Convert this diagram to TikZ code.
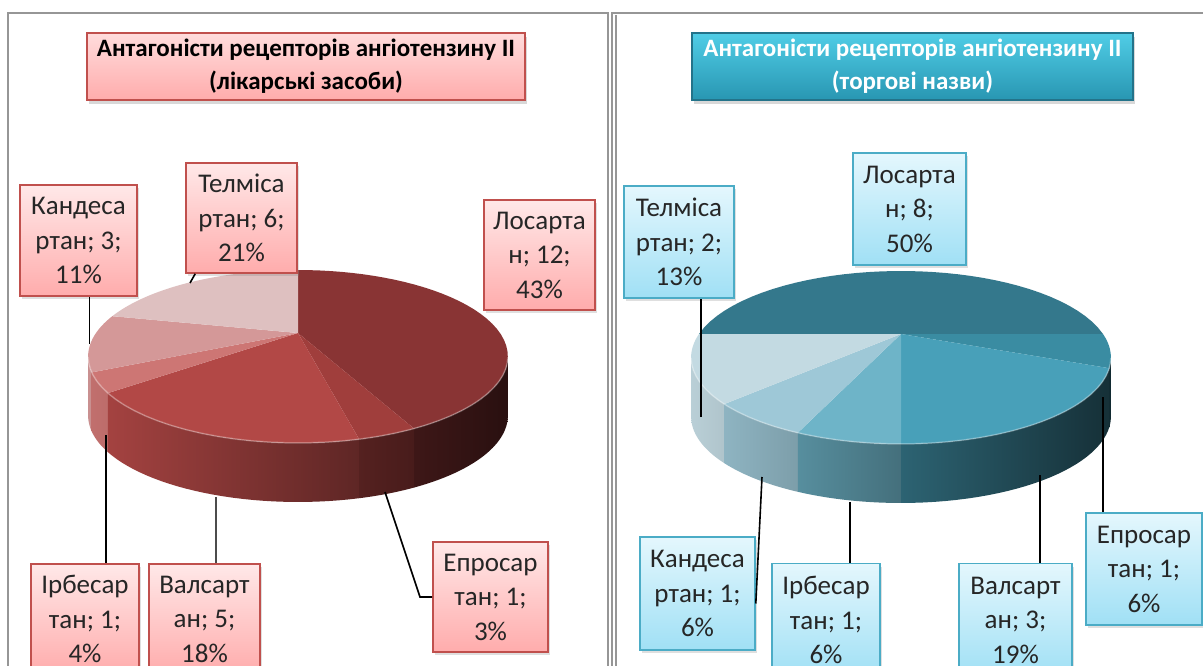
\documentclass[tikz,border=0pt]{standalone}
\usepackage{fontspec}
\setmainfont{Carlito}
\usetikzlibrary{shadows}
\definecolor{LA}{RGB}{137,52,52}
\definecolor{LB}{RGB}{160,62,60}
\definecolor{LC}{RGB}{178,72,70}
\definecolor{LD}{RGB}{205,118,116}
\definecolor{LE}{RGB}{212,152,152}
\definecolor{LF}{RGB}{222,192,192}
\definecolor{RA}{RGB}{52,120,140}
\definecolor{RB}{RGB}{58,140,162}
\definecolor{RC}{RGB}{72,160,185}
\definecolor{RD}{RGB}{110,180,200}
\definecolor{RE}{RGB}{158,200,215}
\definecolor{RF}{RGB}{195,218,226}
\definecolor{redborder}{RGB}{192,80,77}
\definecolor{redtop}{RGB}{255,232,232}
\definecolor{redbot}{RGB}{255,172,172}
\definecolor{tealborder}{RGB}{75,172,198}
\definecolor{tealtop}{RGB}{228,247,253}
\definecolor{tealbot}{RGB}{160,224,245}
\definecolor{ttop}{RGB}{80,205,230}
\definecolor{tbot}{RGB}{40,150,178}
\definecolor{tborder}{RGB}{35,115,138}
\definecolor{frame}{RGB}{150,150,150}
\newcommand\pieslice[3]{\fill[#3] (0,0) -- plot[domain=#1:#2, samples=40, variable=\t] ({px(\t)},{py(\t)}) -- cycle;}
\newcommand\pieside[4]{\path[left color=#3, right color=#4] plot[domain=#1:#2, samples=30, variable=\t] ({px(\t)},{py(\t)}) -- plot[domain=#2:#1, samples=30, variable=\t] ({px(\t)},{py(\t)+59}) -- cycle;}
\tikzset{
  lbox/.style={draw=redborder, line width=1.6pt, top color=redtop, bottom color=redbot, inner sep=0pt, align=center, text=black!85, font=\fontsize{27}{34.5}\selectfont, drop shadow={shadow xshift=2pt, shadow yshift=-3pt, opacity=0.25}},
  tbox/.style={draw=tealborder, line width=1.6pt, top color=tealtop, bottom color=tealbot, inner sep=0pt, align=center, text=black!85, font=\fontsize{27}{34.5}\selectfont, drop shadow={shadow xshift=2pt, shadow yshift=-3pt, opacity=0.25}},
  leader/.style={line width=1.6pt, black},
  titlefont/.style={font=\bfseries\fontsize{25}{33}\selectfont, align=center, inner sep=0pt}
}
\begin{document}
\begin{tikzpicture}[x=1pt,y=-1pt,
  declare function={px(\t)=202*cos(\t)/(1+0.2717*sin(\t)); py(\t)=-80.1*sin(\t)/(1+0.2717*sin(\t));}]
\useasboundingbox[fill=white] (0,0) rectangle (1203,666);
% frames
\draw[frame, line width=2pt] (8,680) -- (8,13) -- (608,13) -- (608,680);
\draw[frame, line width=1.5pt] (612,680) -- (612,13) -- (1210,13);
\draw[frame, line width=1.5pt] (616,680) -- (616,15);
% titles
\node[titlefont, draw=redborder, line width=1.5pt, top color=redtop!80!redbot, bottom color=redbot, minimum width=438, minimum height=67, drop shadow={shadow xshift=2pt, shadow yshift=-4pt, opacity=0.3}] (t1) at (306,66.5) {Антагоністи рецепторів ангіотензину II\\(лікарські засоби)};
\node[titlefont, text=white, draw=tborder, line width=1.5pt, top color=ttop, bottom color=tbot, minimum width=441, minimum height=67, drop shadow={shadow xshift=2pt, shadow yshift=-4pt, opacity=0.3}] (t2) at (912.5,66.5) {Антагоністи рецепторів ангіотензину II\\(торгові назви)};
% left pie
\begin{scope}[shift={(298,333)}]
  \pieside{-164.23}{-154.29}{LE!95!black}{LE!94!black}
  \pieside{-154.29}{-141.43}{LD!94!black}{LD!92!black}
  \pieside{-141.43}{-77.14}{LC!92!black}{LC!53!black}
  \pieside{-77.14}{-64.29}{LB!53!black}{LB!45!black}
  \pieside{-64.29}{-15.77}{LA!45!black}{LA!30!black}
  \pieslice{90}{-64.29}{LA}
  \pieslice{-64.29}{-77.14}{LB}
  \pieslice{-77.14}{-141.43}{LC}
  \pieslice{-141.43}{-154.29}{LD}
  \pieslice{-154.29}{-192.86}{LE}
  \pieslice{-192.86}{-270}{LF}
  \draw[white, opacity=0.3, line width=1.5pt] plot[domain=-164:-16, samples=40, variable=\t] ({px(\t)},{py(\t)});
\end{scope}
% right pie
\begin{scope}[shift={(901,334)}]
  \pieside{-164.23}{-135}{RF!95!black}{RF!90!black}
  \pieside{-135}{-112.5}{RE!90!black}{RE!79!black}
  \pieside{-112.5}{-90}{RD!79!black}{RD!62!black}
  \pieside{-90}{-22.5}{RC!62!black}{RC!30!black}
  \pieside{-22.5}{-15.77}{RB!30!black}{RB!30!black}
  \pieslice{180}{0}{RA}
  \pieslice{0}{-22.5}{RB}
  \pieslice{-22.5}{-90}{RC}
  \pieslice{-90}{-112.5}{RD}
  \pieslice{-112.5}{-135}{RE}
  \pieslice{-135}{-180}{RF}
  \draw[white, opacity=0.3, line width=1.5pt] plot[domain=-164:-16, samples=40, variable=\t] ({px(\t)},{py(\t)});
\end{scope}
% left labels
\node[lbox, minimum width=117, minimum height=111] (lc) at (78.5,240.5) {Кандеса\\ртан; 3;\\11\%};
\node[lbox, minimum width=111, minimum height=110] (lt) at (241.5,218) {Телміса\\ртан; 6;\\21\%};
\node[lbox, minimum width=111, minimum height=110] (ll) at (539.5,255) {Лосарта\\н; 12;\\43\%};
\node[lbox, minimum width=115, minimum height=110] (le) at (490.5,597) {Епросар\\тан; 1;\\3\%};
\node[lbox, minimum width=108, minimum height=110] (li) at (85,619) {Ірбесар\\тан; 1;\\4\%};
\node[lbox, minimum width=111, minimum height=110] (lv) at (204.5,619) {Валсарт\\ан; 5;\\18\%};
% left leaders
\coordinate (pc) at (89.5,344);
\coordinate (pt) at (190,283);
\coordinate (pi) at (106,435);
\coordinate (pv) at (216,497);
\coordinate (pe) at (385,492);
\coordinate (pe2) at (420,597);
\draw[leader] (pc) -- (pc |- lc.south);
\draw[leader] (pt) -- ([xshift=10pt]lt.south west);
\draw[leader] (pi) -- (pi |- li.north);
\draw[leader, black!70] (pv) -- (pv |- lv.north);
\draw[leader] (pe) -- (pe2) -- (le.west);
% right labels
\node[tbox, minimum width=110, minimum height=112] (rt) at (679,242) {Телміса\\ртан; 2;\\13\%};
\node[tbox, minimum width=113, minimum height=112] (rl) at (909.5,209) {Лосарта\\н; 8;\\50\%};
\node[tbox, minimum width=115, minimum height=113] (rc) at (697.5,593.5) {Кандеса\\ртан; 1;\\6\%};
\node[tbox, minimum width=108, minimum height=113] (ri) at (826,620) {Ірбесар\\тан; 1;\\6\%};
\node[tbox, minimum width=113, minimum height=113] (rv) at (1015.5,620) {Валсарт\\ан; 3;\\19\%};
\node[tbox, minimum width=116, minimum height=112] (re) at (1144,569) {Епросар\\тан; 1;\\6\%};
% right leaders
\coordinate (qt) at (701,417);
\coordinate (qc) at (762,477);
\coordinate (qi) at (850,502);
\coordinate (qv) at (1040,475);
\coordinate (qe) at (1103,397);
\draw[leader] (qt) -- (qt |- rt.south);
\draw[leader] (qc) -- ([yshift=-10pt]rc.east);
\draw[leader] (qi) -- (qi |- ri.north);
\draw[leader] (qv) -- (qv |- rv.north);
\draw[leader] (qe) -- (qe |- re.north);
\end{tikzpicture}
\end{document}
